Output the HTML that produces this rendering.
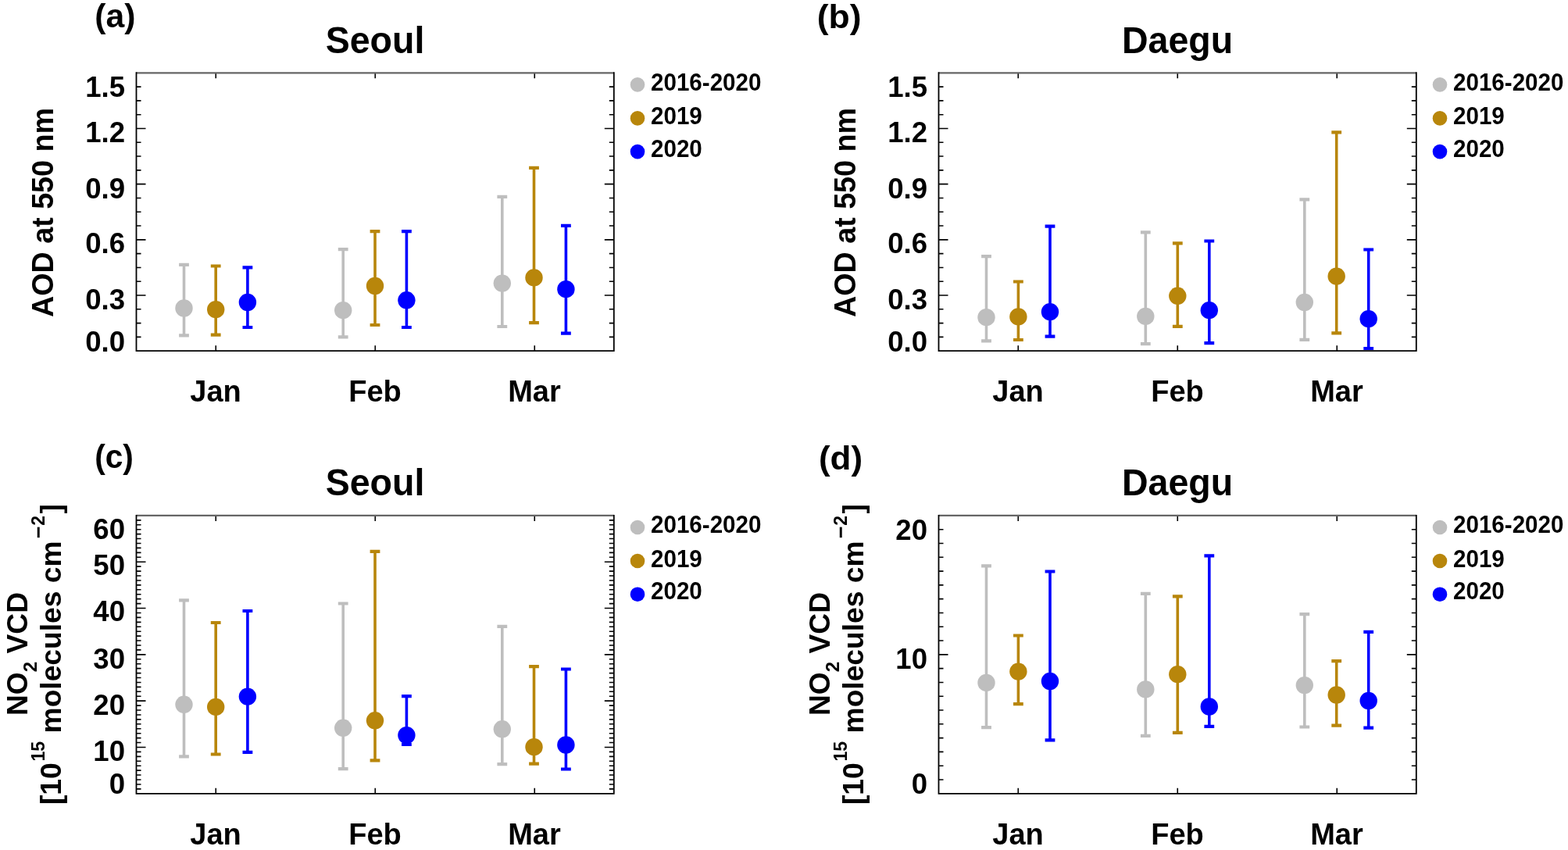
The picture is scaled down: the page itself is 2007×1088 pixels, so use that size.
<!DOCTYPE html>
<html><head><meta charset="utf-8"><title>Figure</title>
<style>html,body{margin:0;padding:0;background:#fff;overflow:hidden;}svg{display:block;filter:blur(0.45px);}</style>
</head><body>
<svg width="2007" height="1088" viewBox="0 0 2007 1088">
<g style="font-family:'Liberation Sans',Arial,Helvetica,sans-serif;font-weight:bold" fill="#000">
<text transform="translate(121.37,34.70) scale(1.006,1)" font-size="42.5">(a)</text>
<text transform="translate(480.00,67.60) scale(0.97,1)" font-size="48" text-anchor="middle">Seoul</text>
<text x="276.00" y="514.00" font-size="38" text-anchor="middle" >Jan</text>
<text x="480.00" y="514.00" font-size="38" text-anchor="middle" >Feb</text>
<text x="684.00" y="514.00" font-size="38" text-anchor="middle" >Mar</text>
<circle cx="816.0" cy="108.40" r="9.3" fill="#bebebe"/>
<text transform="translate(833.00,115.80) scale(0.97,1)" font-size="30.5">2016-2020</text>
<circle cx="816.0" cy="151.40" r="9.3" fill="#b8860b"/>
<text transform="translate(833.00,158.90) scale(0.97,1)" font-size="30.5">2019</text>
<circle cx="816.0" cy="194.10" r="9.3" fill="#0000ff"/>
<text transform="translate(833.00,200.70) scale(0.97,1)" font-size="30.5">2020</text>
<text transform="translate(1045.68,36.10) scale(1.048,1)" font-size="42.5">(b)</text>
<text transform="translate(1507.00,67.60) scale(0.97,1)" font-size="48" text-anchor="middle">Daegu</text>
<text x="1303.00" y="514.00" font-size="38" text-anchor="middle" >Jan</text>
<text x="1507.00" y="514.00" font-size="38" text-anchor="middle" >Feb</text>
<text x="1711.00" y="514.00" font-size="38" text-anchor="middle" >Mar</text>
<circle cx="1843.0" cy="108.40" r="9.3" fill="#bebebe"/>
<text transform="translate(1860.00,115.80) scale(0.97,1)" font-size="30.5">2016-2020</text>
<circle cx="1843.0" cy="151.40" r="9.3" fill="#b8860b"/>
<text transform="translate(1860.00,158.90) scale(0.97,1)" font-size="30.5">2019</text>
<circle cx="1843.0" cy="194.10" r="9.3" fill="#0000ff"/>
<text transform="translate(1860.00,200.70) scale(0.97,1)" font-size="30.5">2020</text>
<text transform="translate(121.17,599.40) scale(0.958,1)" font-size="42.5">(c)</text>
<text transform="translate(480.00,634.20) scale(0.97,1)" font-size="48" text-anchor="middle">Seoul</text>
<text x="276.00" y="1080.60" font-size="38" text-anchor="middle" >Jan</text>
<text x="480.00" y="1080.60" font-size="38" text-anchor="middle" >Feb</text>
<text x="684.00" y="1080.60" font-size="38" text-anchor="middle" >Mar</text>
<circle cx="816.0" cy="675.00" r="9.3" fill="#bebebe"/>
<text transform="translate(833.00,682.40) scale(0.97,1)" font-size="30.5">2016-2020</text>
<circle cx="816.0" cy="718.00" r="9.3" fill="#b8860b"/>
<text transform="translate(833.00,725.50) scale(0.97,1)" font-size="30.5">2019</text>
<circle cx="816.0" cy="760.70" r="9.3" fill="#0000ff"/>
<text transform="translate(833.00,767.30) scale(0.97,1)" font-size="30.5">2020</text>
<text transform="translate(1047.91,601.30) scale(1.034,1)" font-size="42.5">(d)</text>
<text transform="translate(1507.00,634.20) scale(0.97,1)" font-size="48" text-anchor="middle">Daegu</text>
<text x="1303.00" y="1080.60" font-size="38" text-anchor="middle" >Jan</text>
<text x="1507.00" y="1080.60" font-size="38" text-anchor="middle" >Feb</text>
<text x="1711.00" y="1080.60" font-size="38" text-anchor="middle" >Mar</text>
<circle cx="1843.0" cy="675.00" r="9.3" fill="#bebebe"/>
<text transform="translate(1860.00,682.40) scale(0.97,1)" font-size="30.5">2016-2020</text>
<circle cx="1843.0" cy="718.00" r="9.3" fill="#b8860b"/>
<text transform="translate(1860.00,725.50) scale(0.97,1)" font-size="30.5">2019</text>
<circle cx="1843.0" cy="760.70" r="9.3" fill="#0000ff"/>
<text transform="translate(1860.00,767.30) scale(0.97,1)" font-size="30.5">2020</text>
<text x="160.00" y="123.70" font-size="36.6" text-anchor="end" >1.5</text>
<text x="160.00" y="181.70" font-size="36.6" text-anchor="end" >1.2</text>
<text x="160.00" y="253.50" font-size="36.6" text-anchor="end" >0.9</text>
<text x="160.00" y="324.40" font-size="36.6" text-anchor="end" >0.6</text>
<text x="160.00" y="395.60" font-size="36.6" text-anchor="end" >0.3</text>
<text x="160.00" y="450.00" font-size="36.6" text-anchor="end" >0.0</text>
<text transform="translate(68.20,272) rotate(-90) scale(0.986,1)" font-size="38.2" text-anchor="middle">AOD at 550 nm</text>
<text x="1187.00" y="123.70" font-size="36.6" text-anchor="end" >1.5</text>
<text x="1187.00" y="181.70" font-size="36.6" text-anchor="end" >1.2</text>
<text x="1187.00" y="253.50" font-size="36.6" text-anchor="end" >0.9</text>
<text x="1187.00" y="324.40" font-size="36.6" text-anchor="end" >0.6</text>
<text x="1187.00" y="395.60" font-size="36.6" text-anchor="end" >0.3</text>
<text x="1187.00" y="450.00" font-size="36.6" text-anchor="end" >0.0</text>
<text transform="translate(1095.20,272) rotate(-90) scale(0.986,1)" font-size="38.2" text-anchor="middle">AOD at 550 nm</text>
<text x="160.00" y="690.20" font-size="36.6" text-anchor="end" >60</text>
<text x="160.00" y="736.20" font-size="36.6" text-anchor="end" >50</text>
<text x="160.00" y="795.00" font-size="36.6" text-anchor="end" >40</text>
<text x="160.00" y="855.60" font-size="36.6" text-anchor="end" >30</text>
<text x="160.00" y="914.50" font-size="36.6" text-anchor="end" >20</text>
<text x="160.00" y="974.20" font-size="36.6" text-anchor="end" >10</text>
<text x="160.00" y="1016.40" font-size="36.6" text-anchor="end" >0</text>
<text x="1187.00" y="690.50" font-size="36.6" text-anchor="end" >20</text>
<text x="1187.00" y="855.90" font-size="36.6" text-anchor="end" >10</text>
<text x="1187.00" y="1016.10" font-size="36.6" text-anchor="end" >0</text>
<text transform="translate(34.60,837) rotate(-90)" font-size="37.2" text-anchor="middle">NO<tspan font-size="24" dy="12">2</tspan><tspan dy="-12"> VCD</tspan></text>
<text transform="translate(78.00,837) rotate(-90)" font-size="37.2"><tspan x="-193.09" y="0">[10</tspan><tspan font-size="23" x="-137.44" y="-21.5">15</tspan><tspan x="-101.45" y="0">molecules cm</tspan><tspan font-size="27" x="147.88" y="-19.7">&#8722;</tspan><tspan font-size="23" x="164.2" y="-21.5">2</tspan><tspan x="179.45" y="0">]</tspan></text>
<text transform="translate(1061.60,837) rotate(-90)" font-size="37.2" text-anchor="middle">NO<tspan font-size="24" dy="12">2</tspan><tspan dy="-12"> VCD</tspan></text>
<text transform="translate(1105.00,837) rotate(-90)" font-size="37.2"><tspan x="-193.09" y="0">[10</tspan><tspan font-size="23" x="-137.44" y="-21.5">15</tspan><tspan x="-101.45" y="0">molecules cm</tspan><tspan font-size="27" x="147.88" y="-19.7">&#8722;</tspan><tspan font-size="23" x="164.2" y="-21.5">2</tspan><tspan x="179.45" y="0">]</tspan></text>
</g>
<path d="M174.50 431.40h6 M785.80 431.40h-6 M174.50 413.61h6 M785.80 413.61h-6 M174.50 395.81h6 M785.80 395.81h-6 M174.50 378.02h12 M785.80 378.02h-12 M174.50 360.23h6 M785.80 360.23h-6 M174.50 342.43h6 M785.80 342.43h-6 M174.50 324.63h6 M785.80 324.63h-6 M174.50 306.84h12 M785.80 306.84h-12 M174.50 289.04h6 M785.80 289.04h-6 M174.50 271.25h6 M785.80 271.25h-6 M174.50 253.46h6 M785.80 253.46h-6 M174.50 235.66h12 M785.80 235.66h-12 M174.50 217.87h6 M785.80 217.87h-6 M174.50 200.07h6 M785.80 200.07h-6 M174.50 182.27h6 M785.80 182.27h-6 M174.50 164.48h12 M785.80 164.48h-12 M174.50 146.69h6 M785.80 146.69h-6 M174.50 128.89h6 M785.80 128.89h-6 M174.50 111.10h6 M785.80 111.10h-6 M276.25 449.20v-7 M276.25 93.30v7 M480.25 449.20v-7 M480.25 93.30v7 M684.25 449.20v-7 M684.25 93.30v7" stroke="#000" stroke-width="1.6" fill="none"/>
<path d="M174.5 93.3H785.8" stroke="#666" stroke-width="2.3" fill="none"/>
<path d="M174.5 92.3V449.2H785.8V92.3" stroke="#000" stroke-width="1.8" fill="none"/>
<path d="M1201.50 431.40h6 M1812.80 431.40h-6 M1201.50 413.61h6 M1812.80 413.61h-6 M1201.50 395.81h6 M1812.80 395.81h-6 M1201.50 378.02h12 M1812.80 378.02h-12 M1201.50 360.23h6 M1812.80 360.23h-6 M1201.50 342.43h6 M1812.80 342.43h-6 M1201.50 324.63h6 M1812.80 324.63h-6 M1201.50 306.84h12 M1812.80 306.84h-12 M1201.50 289.04h6 M1812.80 289.04h-6 M1201.50 271.25h6 M1812.80 271.25h-6 M1201.50 253.46h6 M1812.80 253.46h-6 M1201.50 235.66h12 M1812.80 235.66h-12 M1201.50 217.87h6 M1812.80 217.87h-6 M1201.50 200.07h6 M1812.80 200.07h-6 M1201.50 182.27h6 M1812.80 182.27h-6 M1201.50 164.48h12 M1812.80 164.48h-12 M1201.50 146.69h6 M1812.80 146.69h-6 M1201.50 128.89h6 M1812.80 128.89h-6 M1201.50 111.10h6 M1812.80 111.10h-6 M1303.25 449.20v-7 M1303.25 93.30v7 M1507.25 449.20v-7 M1507.25 93.30v7 M1711.25 449.20v-7 M1711.25 93.30v7" stroke="#000" stroke-width="1.6" fill="none"/>
<path d="M1201.5 93.3H1812.8" stroke="#666" stroke-width="2.3" fill="none"/>
<path d="M1201.5 92.3V449.2H1812.8V92.3" stroke="#000" stroke-width="1.8" fill="none"/>
<path d="M174.50 1009.87h6 M785.80 1009.87h-6 M174.50 1003.94h6 M785.80 1003.94h-6 M174.50 998.00h6 M785.80 998.00h-6 M174.50 992.07h6 M785.80 992.07h-6 M174.50 986.14h6 M785.80 986.14h-6 M174.50 980.21h6 M785.80 980.21h-6 M174.50 974.28h6 M785.80 974.28h-6 M174.50 968.35h6 M785.80 968.35h-6 M174.50 962.41h6 M785.80 962.41h-6 M174.50 956.48h12 M785.80 956.48h-12 M174.50 950.55h6 M785.80 950.55h-6 M174.50 944.62h6 M785.80 944.62h-6 M174.50 938.69h6 M785.80 938.69h-6 M174.50 932.76h6 M785.80 932.76h-6 M174.50 926.82h6 M785.80 926.82h-6 M174.50 920.89h6 M785.80 920.89h-6 M174.50 914.96h6 M785.80 914.96h-6 M174.50 909.03h6 M785.80 909.03h-6 M174.50 903.10h6 M785.80 903.10h-6 M174.50 897.17h12 M785.80 897.17h-12 M174.50 891.23h6 M785.80 891.23h-6 M174.50 885.30h6 M785.80 885.30h-6 M174.50 879.37h6 M785.80 879.37h-6 M174.50 873.44h6 M785.80 873.44h-6 M174.50 867.51h6 M785.80 867.51h-6 M174.50 861.58h6 M785.80 861.58h-6 M174.50 855.64h6 M785.80 855.64h-6 M174.50 849.71h6 M785.80 849.71h-6 M174.50 843.78h6 M785.80 843.78h-6 M174.50 837.85h12 M785.80 837.85h-12 M174.50 831.92h6 M785.80 831.92h-6 M174.50 825.99h6 M785.80 825.99h-6 M174.50 820.05h6 M785.80 820.05h-6 M174.50 814.12h6 M785.80 814.12h-6 M174.50 808.19h6 M785.80 808.19h-6 M174.50 802.26h6 M785.80 802.26h-6 M174.50 796.33h6 M785.80 796.33h-6 M174.50 790.40h6 M785.80 790.40h-6 M174.50 784.46h6 M785.80 784.46h-6 M174.50 778.53h12 M785.80 778.53h-12 M174.50 772.60h6 M785.80 772.60h-6 M174.50 766.67h6 M785.80 766.67h-6 M174.50 760.74h6 M785.80 760.74h-6 M174.50 754.81h6 M785.80 754.81h-6 M174.50 748.88h6 M785.80 748.88h-6 M174.50 742.94h6 M785.80 742.94h-6 M174.50 737.01h6 M785.80 737.01h-6 M174.50 731.08h6 M785.80 731.08h-6 M174.50 725.15h6 M785.80 725.15h-6 M174.50 719.22h12 M785.80 719.22h-12 M174.50 713.28h6 M785.80 713.28h-6 M174.50 707.35h6 M785.80 707.35h-6 M174.50 701.42h6 M785.80 701.42h-6 M174.50 695.49h6 M785.80 695.49h-6 M174.50 689.56h6 M785.80 689.56h-6 M174.50 683.63h6 M785.80 683.63h-6 M174.50 677.69h6 M785.80 677.69h-6 M174.50 671.76h6 M785.80 671.76h-6 M174.50 665.83h6 M785.80 665.83h-6 M276.25 1015.80v-7 M276.25 659.90v7 M480.25 1015.80v-7 M480.25 659.90v7 M684.25 1015.80v-7 M684.25 659.90v7" stroke="#000" stroke-width="1.6" fill="none"/>
<path d="M174.5 659.9H785.8" stroke="#666" stroke-width="2.3" fill="none"/>
<path d="M174.5 658.9V1015.8H785.8V658.9" stroke="#000" stroke-width="1.8" fill="none"/>
<path d="M1201.50 998.00h6 M1812.80 998.00h-6 M1201.50 980.21h6 M1812.80 980.21h-6 M1201.50 962.41h6 M1812.80 962.41h-6 M1201.50 944.62h6 M1812.80 944.62h-6 M1201.50 926.82h6 M1812.80 926.82h-6 M1201.50 909.03h6 M1812.80 909.03h-6 M1201.50 891.24h6 M1812.80 891.24h-6 M1201.50 873.44h6 M1812.80 873.44h-6 M1201.50 855.64h6 M1812.80 855.64h-6 M1201.50 837.85h12 M1812.80 837.85h-12 M1201.50 820.05h6 M1812.80 820.05h-6 M1201.50 802.26h6 M1812.80 802.26h-6 M1201.50 784.46h6 M1812.80 784.46h-6 M1201.50 766.67h6 M1812.80 766.67h-6 M1201.50 748.88h6 M1812.80 748.88h-6 M1201.50 731.08h6 M1812.80 731.08h-6 M1201.50 713.28h6 M1812.80 713.28h-6 M1201.50 695.49h6 M1812.80 695.49h-6 M1201.50 677.69h6 M1812.80 677.69h-6 M1303.25 1015.80v-7 M1303.25 659.90v7 M1507.25 1015.80v-7 M1507.25 659.90v7 M1711.25 1015.80v-7 M1711.25 659.90v7" stroke="#000" stroke-width="1.6" fill="none"/>
<path d="M1201.5 659.9H1812.8" stroke="#666" stroke-width="2.3" fill="none"/>
<path d="M1201.5 658.9V1015.8H1812.8V658.9" stroke="#000" stroke-width="1.8" fill="none"/>
<path d="M235.50 338.80V429.40" stroke="#bebebe" stroke-width="3.6" fill="none"/>
<path d="M229.10 338.80h12.8M229.10 429.40h12.8" stroke="#bebebe" stroke-width="4.2" fill="none"/>
<circle cx="235.50" cy="394.50" r="11.2" fill="#bebebe"/>
<path d="M276.20 340.50V428.70" stroke="#b8860b" stroke-width="3.6" fill="none"/>
<path d="M269.80 340.50h12.8M269.80 428.70h12.8" stroke="#b8860b" stroke-width="4.2" fill="none"/>
<circle cx="276.20" cy="396.20" r="11.2" fill="#b8860b"/>
<path d="M316.90 342.30V419.00" stroke="#0000ff" stroke-width="3.6" fill="none"/>
<path d="M310.50 342.30h12.8M310.50 419.00h12.8" stroke="#0000ff" stroke-width="4.2" fill="none"/>
<circle cx="316.90" cy="387.00" r="11.2" fill="#0000ff"/>
<path d="M439.20 319.20V431.40" stroke="#bebebe" stroke-width="3.6" fill="none"/>
<path d="M432.80 319.20h12.8M432.80 431.40h12.8" stroke="#bebebe" stroke-width="4.2" fill="none"/>
<circle cx="439.20" cy="397.20" r="11.2" fill="#bebebe"/>
<path d="M480.00 296.20V416.00" stroke="#b8860b" stroke-width="3.6" fill="none"/>
<path d="M473.60 296.20h12.8M473.60 416.00h12.8" stroke="#b8860b" stroke-width="4.2" fill="none"/>
<circle cx="480.00" cy="366.00" r="11.2" fill="#b8860b"/>
<path d="M520.40 296.20V419.00" stroke="#0000ff" stroke-width="3.6" fill="none"/>
<path d="M514.00 296.20h12.8M514.00 419.00h12.8" stroke="#0000ff" stroke-width="4.2" fill="none"/>
<circle cx="520.40" cy="384.30" r="11.2" fill="#0000ff"/>
<path d="M642.80 251.90V418.00" stroke="#bebebe" stroke-width="3.6" fill="none"/>
<path d="M636.40 251.90h12.8M636.40 418.00h12.8" stroke="#bebebe" stroke-width="4.2" fill="none"/>
<circle cx="642.80" cy="362.60" r="11.2" fill="#bebebe"/>
<path d="M683.50 214.80V413.20" stroke="#b8860b" stroke-width="3.6" fill="none"/>
<path d="M677.10 214.80h12.8M677.10 413.20h12.8" stroke="#b8860b" stroke-width="4.2" fill="none"/>
<circle cx="683.50" cy="355.40" r="11.2" fill="#b8860b"/>
<path d="M724.40 288.90V426.60" stroke="#0000ff" stroke-width="3.6" fill="none"/>
<path d="M718.00 288.90h12.8M718.00 426.60h12.8" stroke="#0000ff" stroke-width="4.2" fill="none"/>
<circle cx="724.40" cy="370.20" r="11.2" fill="#0000ff"/>
<path d="M1262.50 328.20V436.30" stroke="#bebebe" stroke-width="3.6" fill="none"/>
<path d="M1256.10 328.20h12.8M1256.10 436.30h12.8" stroke="#bebebe" stroke-width="4.2" fill="none"/>
<circle cx="1262.50" cy="406.20" r="11.2" fill="#bebebe"/>
<path d="M1303.40 360.50V435.00" stroke="#b8860b" stroke-width="3.6" fill="none"/>
<path d="M1297.00 360.50h12.8M1297.00 435.00h12.8" stroke="#b8860b" stroke-width="4.2" fill="none"/>
<circle cx="1303.40" cy="405.40" r="11.2" fill="#b8860b"/>
<path d="M1344.00 289.70V430.70" stroke="#0000ff" stroke-width="3.6" fill="none"/>
<path d="M1337.60 289.70h12.8M1337.60 430.70h12.8" stroke="#0000ff" stroke-width="4.2" fill="none"/>
<circle cx="1344.00" cy="399.20" r="11.2" fill="#0000ff"/>
<path d="M1466.30 297.40V440.20" stroke="#bebebe" stroke-width="3.6" fill="none"/>
<path d="M1459.90 297.40h12.8M1459.90 440.20h12.8" stroke="#bebebe" stroke-width="4.2" fill="none"/>
<circle cx="1466.30" cy="404.90" r="11.2" fill="#bebebe"/>
<path d="M1507.30 311.40V417.80" stroke="#b8860b" stroke-width="3.6" fill="none"/>
<path d="M1500.90 311.40h12.8M1500.90 417.80h12.8" stroke="#b8860b" stroke-width="4.2" fill="none"/>
<circle cx="1507.30" cy="378.80" r="11.2" fill="#b8860b"/>
<path d="M1547.80 308.50V439.20" stroke="#0000ff" stroke-width="3.6" fill="none"/>
<path d="M1541.40 308.50h12.8M1541.40 439.20h12.8" stroke="#0000ff" stroke-width="4.2" fill="none"/>
<circle cx="1547.80" cy="397.20" r="11.2" fill="#0000ff"/>
<path d="M1669.80 255.40V434.90" stroke="#bebebe" stroke-width="3.6" fill="none"/>
<path d="M1663.40 255.40h12.8M1663.40 434.90h12.8" stroke="#bebebe" stroke-width="4.2" fill="none"/>
<circle cx="1669.80" cy="387.00" r="11.2" fill="#bebebe"/>
<path d="M1710.70 169.40V426.40" stroke="#b8860b" stroke-width="3.6" fill="none"/>
<path d="M1704.30 169.40h12.8M1704.30 426.40h12.8" stroke="#b8860b" stroke-width="4.2" fill="none"/>
<circle cx="1710.70" cy="353.70" r="11.2" fill="#b8860b"/>
<path d="M1751.70 319.50V446.00" stroke="#0000ff" stroke-width="3.6" fill="none"/>
<path d="M1745.30 319.50h12.8M1745.30 446.00h12.8" stroke="#0000ff" stroke-width="4.2" fill="none"/>
<circle cx="1751.70" cy="408.20" r="11.2" fill="#0000ff"/>
<path d="M235.50 768.30V968.40" stroke="#bebebe" stroke-width="3.6" fill="none"/>
<path d="M229.10 768.30h12.8M229.10 968.40h12.8" stroke="#bebebe" stroke-width="4.2" fill="none"/>
<circle cx="235.50" cy="901.80" r="11.2" fill="#bebebe"/>
<path d="M276.20 797.00V965.50" stroke="#b8860b" stroke-width="3.6" fill="none"/>
<path d="M269.80 797.00h12.8M269.80 965.50h12.8" stroke="#b8860b" stroke-width="4.2" fill="none"/>
<circle cx="276.20" cy="904.90" r="11.2" fill="#b8860b"/>
<path d="M316.90 782.00V962.90" stroke="#0000ff" stroke-width="3.6" fill="none"/>
<path d="M310.50 782.00h12.8M310.50 962.90h12.8" stroke="#0000ff" stroke-width="4.2" fill="none"/>
<circle cx="316.90" cy="891.60" r="11.2" fill="#0000ff"/>
<path d="M439.20 772.50V984.10" stroke="#bebebe" stroke-width="3.6" fill="none"/>
<path d="M432.80 772.50h12.8M432.80 984.10h12.8" stroke="#bebebe" stroke-width="4.2" fill="none"/>
<circle cx="439.20" cy="931.80" r="11.2" fill="#bebebe"/>
<path d="M480.00 705.90V973.30" stroke="#b8860b" stroke-width="3.6" fill="none"/>
<path d="M473.60 705.90h12.8M473.60 973.30h12.8" stroke="#b8860b" stroke-width="4.2" fill="none"/>
<circle cx="480.00" cy="922.30" r="11.2" fill="#b8860b"/>
<path d="M520.40 891.10V953.00" stroke="#0000ff" stroke-width="3.6" fill="none"/>
<path d="M514.00 891.10h12.8M514.00 953.00h12.8" stroke="#0000ff" stroke-width="4.2" fill="none"/>
<circle cx="520.40" cy="941.10" r="11.2" fill="#0000ff"/>
<path d="M642.80 801.80V978.10" stroke="#bebebe" stroke-width="3.6" fill="none"/>
<path d="M636.40 801.80h12.8M636.40 978.10h12.8" stroke="#bebebe" stroke-width="4.2" fill="none"/>
<circle cx="642.80" cy="933.30" r="11.2" fill="#bebebe"/>
<path d="M683.50 853.10V977.60" stroke="#b8860b" stroke-width="3.6" fill="none"/>
<path d="M677.10 853.10h12.8M677.10 977.60h12.8" stroke="#b8860b" stroke-width="4.2" fill="none"/>
<circle cx="683.50" cy="956.20" r="11.2" fill="#b8860b"/>
<path d="M724.40 856.50V984.50" stroke="#0000ff" stroke-width="3.6" fill="none"/>
<path d="M718.00 856.50h12.8M718.00 984.50h12.8" stroke="#0000ff" stroke-width="4.2" fill="none"/>
<circle cx="724.40" cy="953.50" r="11.2" fill="#0000ff"/>
<path d="M1262.50 724.40V931.20" stroke="#bebebe" stroke-width="3.6" fill="none"/>
<path d="M1256.10 724.40h12.8M1256.10 931.20h12.8" stroke="#bebebe" stroke-width="4.2" fill="none"/>
<circle cx="1262.50" cy="873.90" r="11.2" fill="#bebebe"/>
<path d="M1303.40 813.50V901.10" stroke="#b8860b" stroke-width="3.6" fill="none"/>
<path d="M1297.00 813.50h12.8M1297.00 901.10h12.8" stroke="#b8860b" stroke-width="4.2" fill="none"/>
<circle cx="1303.40" cy="859.60" r="11.2" fill="#b8860b"/>
<path d="M1344.00 731.50V947.30" stroke="#0000ff" stroke-width="3.6" fill="none"/>
<path d="M1337.60 731.50h12.8M1337.60 947.30h12.8" stroke="#0000ff" stroke-width="4.2" fill="none"/>
<circle cx="1344.00" cy="872.00" r="11.2" fill="#0000ff"/>
<path d="M1466.30 759.80V941.90" stroke="#bebebe" stroke-width="3.6" fill="none"/>
<path d="M1459.90 759.80h12.8M1459.90 941.90h12.8" stroke="#bebebe" stroke-width="4.2" fill="none"/>
<circle cx="1466.30" cy="882.40" r="11.2" fill="#bebebe"/>
<path d="M1507.30 763.30V937.90" stroke="#b8860b" stroke-width="3.6" fill="none"/>
<path d="M1500.90 763.30h12.8M1500.90 937.90h12.8" stroke="#b8860b" stroke-width="4.2" fill="none"/>
<circle cx="1507.30" cy="863.20" r="11.2" fill="#b8860b"/>
<path d="M1547.80 711.30V929.90" stroke="#0000ff" stroke-width="3.6" fill="none"/>
<path d="M1541.40 711.30h12.8M1541.40 929.90h12.8" stroke="#0000ff" stroke-width="4.2" fill="none"/>
<circle cx="1547.80" cy="904.50" r="11.2" fill="#0000ff"/>
<path d="M1669.80 786.10V930.50" stroke="#bebebe" stroke-width="3.6" fill="none"/>
<path d="M1663.40 786.10h12.8M1663.40 930.50h12.8" stroke="#bebebe" stroke-width="4.2" fill="none"/>
<circle cx="1669.80" cy="877.10" r="11.2" fill="#bebebe"/>
<path d="M1710.70 846.10V928.70" stroke="#b8860b" stroke-width="3.6" fill="none"/>
<path d="M1704.30 846.10h12.8M1704.30 928.70h12.8" stroke="#b8860b" stroke-width="4.2" fill="none"/>
<circle cx="1710.70" cy="889.50" r="11.2" fill="#b8860b"/>
<path d="M1751.70 808.90V931.70" stroke="#0000ff" stroke-width="3.6" fill="none"/>
<path d="M1745.30 808.90h12.8M1745.30 931.70h12.8" stroke="#0000ff" stroke-width="4.2" fill="none"/>
<circle cx="1751.70" cy="897.00" r="11.2" fill="#0000ff"/>
</svg>
</body></html>
